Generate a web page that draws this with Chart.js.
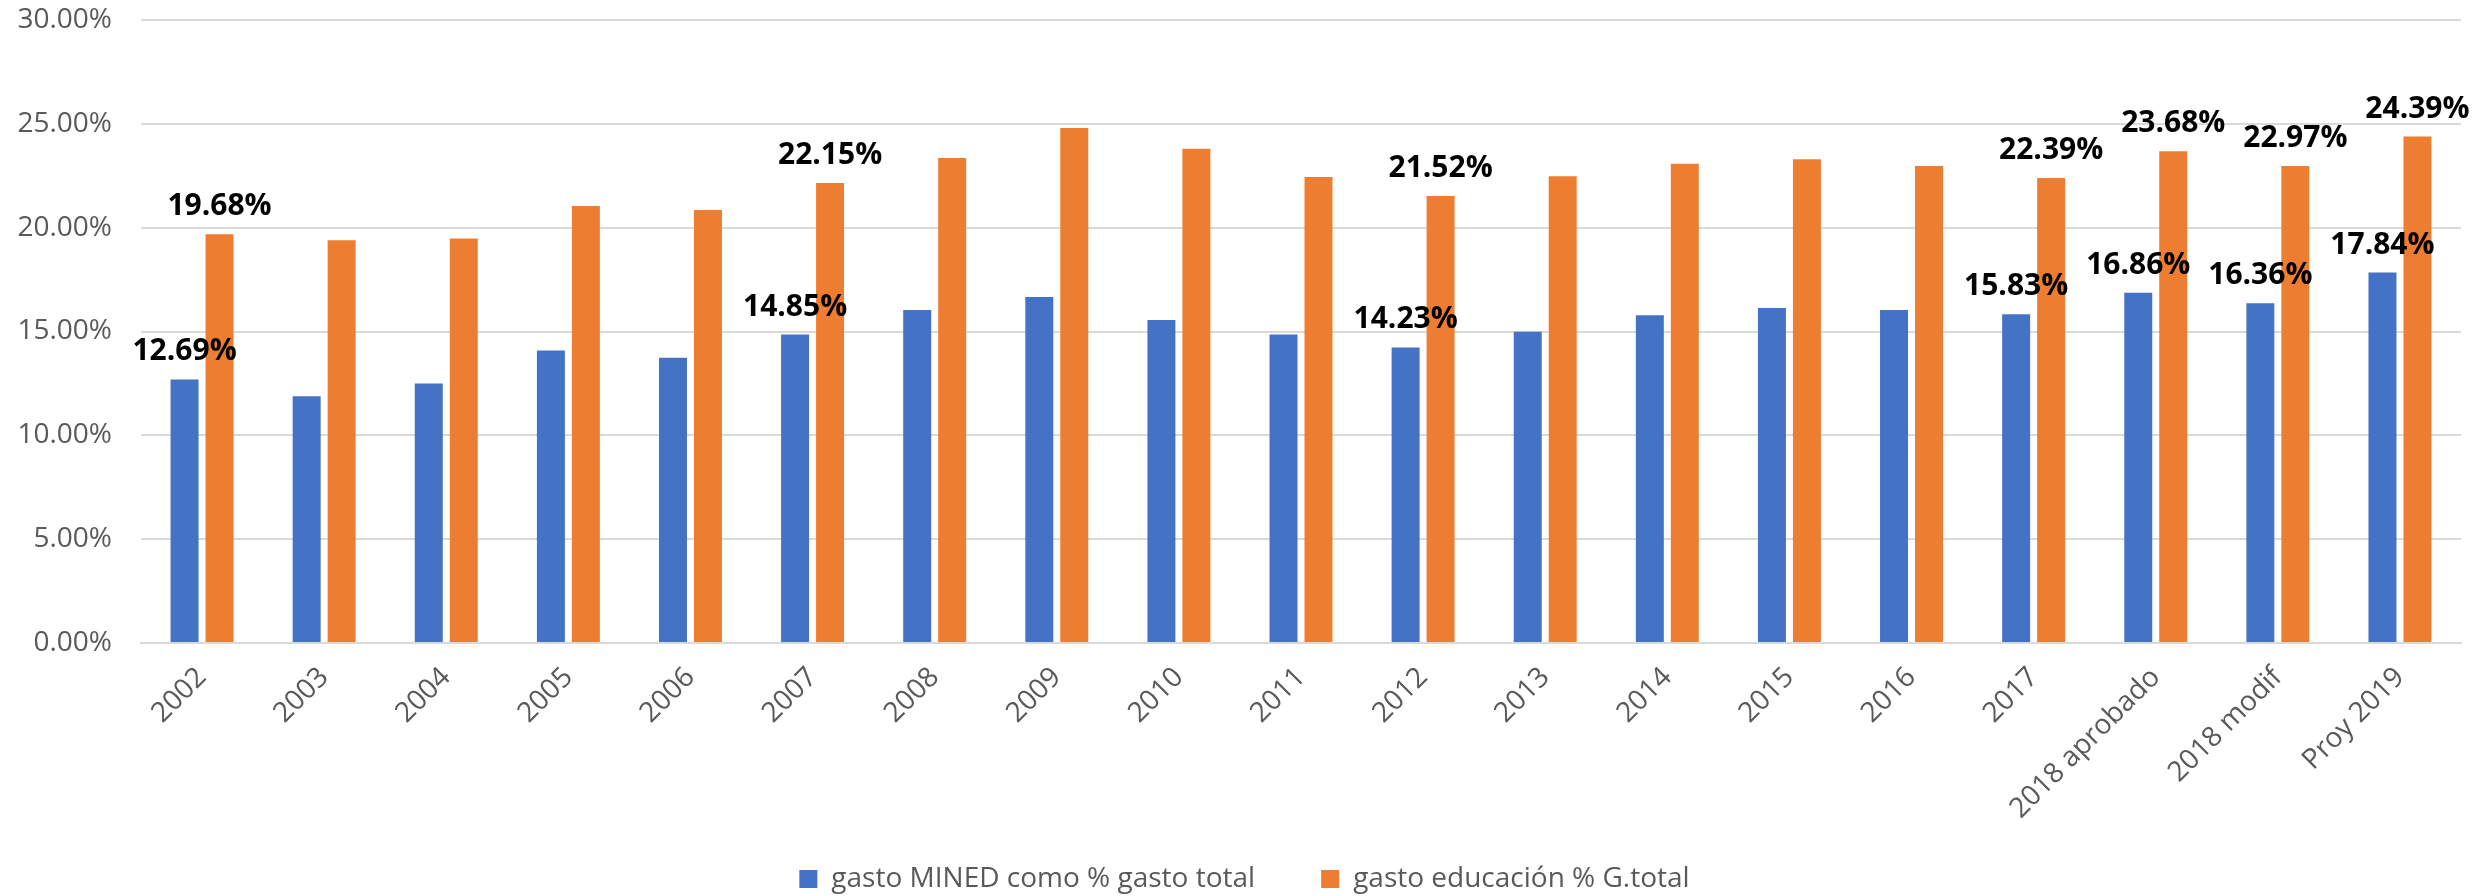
<!DOCTYPE html>
<html>
<head>
<meta charset="utf-8">
<script src="https://cdn.jsdelivr.net/npm/chart.js@4/dist/chart.umd.min.js"></script>
<style>
  html, body { margin: 0; padding: 0; background: #fff; }
</style>
</head>
<body>
<canvas id="gastoChart" width="2489" height="896"></canvas>
<script>
const categories = ['2002', '2003', '2004', '2005', '2006', '2007', '2008', '2009', '2010', '2011',
    '2012', '2013', '2014', '2015', '2016', '2017', '2018 aprobado', '2018 modif', 'Proy 2019'];
const gastoMined = [12.69, 11.88, 12.49, 14.09, 13.74, 14.85, 16.03, 16.66, 15.55, 14.86,
    14.23, 14.99, 15.78, 16.13, 16.03, 15.83, 16.86, 16.36, 17.84];
const gastoEducacion = [19.68, 19.39, 19.48, 21.04, 20.85, 22.15, 23.35, 24.80, 23.80, 22.44,
    21.52, 22.47, 23.08, 23.30, 22.97, 22.39, 23.68, 22.97, 24.39];
// categories that carry a value label
const labeledIdx = [0, 5, 10, 15, 16, 17, 18];

Chart.defaults.font.family = "'Open Sans', sans-serif";

const valueLabels = {
    id: 'valueLabels',
    afterLayout(chart) {
        // let axis labels run outside their boxes without being clipped
        chart.scales.x.bottom = chart.height;
        chart.scales.y.left = 0;
    },
    afterDatasetsDraw(chart) {
        const ctx = chart.ctx;
        ctx.save();
        ctx.font = "bold 30px 'Open Sans', sans-serif";
        ctx.fillStyle = '#000000';
        ctx.textAlign = 'center';
        ctx.textBaseline = 'alphabetic';
        chart.data.datasets.forEach((ds, d) => {
            const meta = chart.getDatasetMeta(d);
            labeledIdx.forEach(i => {
                const bar = meta.data[i];
                ctx.fillText(ds.data[i].toFixed(2) + '%', bar.x, bar.y - 19);
            });
        });
        ctx.restore();
    }
};

const data = {
    labels: categories,
    datasets: [{
        label: 'gasto MINED como % gasto total',
        backgroundColor: '#4472C4',
        data: gastoMined,
    }, {
        label: 'gasto educación % G.total',
        backgroundColor: '#ED7D31',
        data: gastoEducacion,
    }]
};

const config = {
    type: 'bar',
    data: data,
    plugins: [valueLabels],
    options: {
        responsive: false,
        animation: false,
        devicePixelRatio: 1,
        categoryPercentage: 0.573,
        barPercentage: 0.8,
        layout: { padding: { top: 20, right: 28, bottom: -7, left: 28 } },
        plugins: {
            tooltip: { enabled: false },
            legend: {
                position: 'bottom',
                labels: {
                    boxWidth: 18,
                    boxHeight: 18,
                    padding: 66,
                    color: '#595959',
                    font: { size: 28 }
                }
            }
        },
        scales: {
            x: {
                grid: { display: false, drawTicks: false },
                border: { color: '#d9d9d9', width: 2 },
                ticks: {
                    color: '#595959',
                    font: { size: 28 },
                    minRotation: 45,
                    maxRotation: 45,
                    autoSkip: false,
                    padding: 18
                },
                afterFit(scale) { scale.height = 156; }
            },
            y: {
                min: 0,
                max: 30,
                grid: { color: '#d9d9d9', lineWidth: 2, drawTicks: false },
                border: { display: false },
                ticks: {
                    stepSize: 5,
                    color: '#595959',
                    font: { size: 28 },
                    padding: 29,
                    callback: v => v.toFixed(2) + '%'
                },
                afterFit(scale) {
                    scale.width = 113;
                    scale.paddingTop = 0;
                    scale.paddingBottom = 0;
                }
            }
        }
    }
};

const myChart = new Chart(document.getElementById('gastoChart'), config);
</script>
</body>
</html>
